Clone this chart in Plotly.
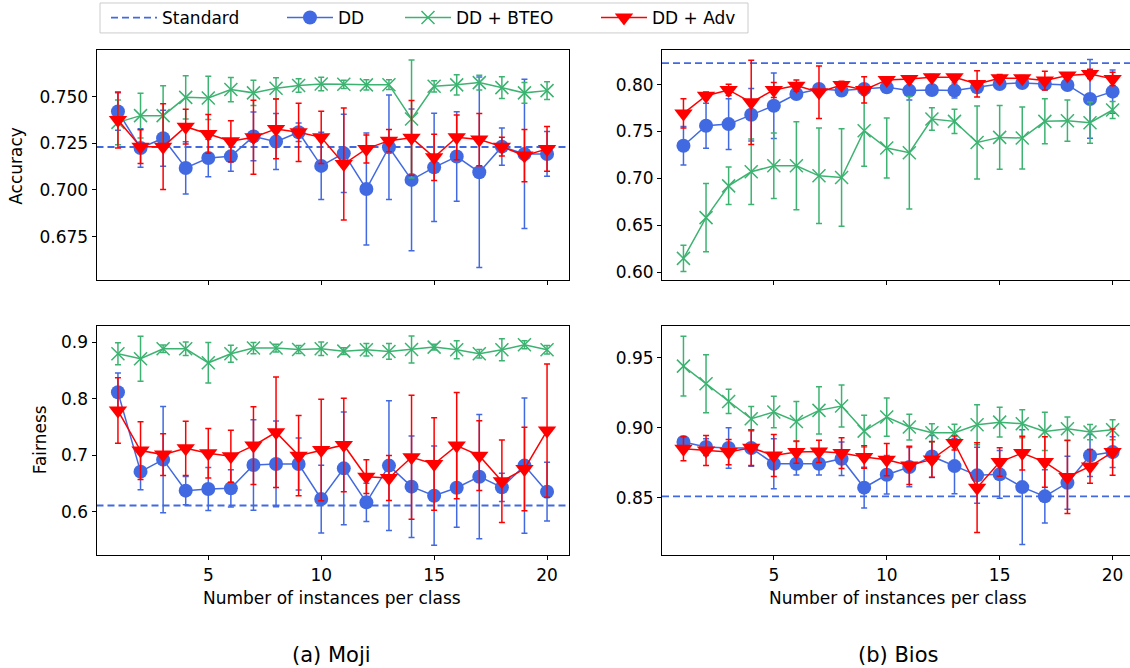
import plotly.graph_objects as go

W, H = 1130, 668
FONT = "DejaVu Sans"

x_vals = list(range(1, 21))
x_ticks = [5, 10, 15, 20]

# Standard baselines
std_moji_acc = 0.723
std_moji_fair = 0.611
std_bios_acc = 0.823
std_bios_fair = 0.851

# Moji accuracy
moji_acc_dd = [0.742, 0.7225, 0.7277, 0.7118, 0.7171, 0.718, 0.7287, 0.7259, 0.7309, 0.7129,
               0.7196, 0.7005, 0.7229, 0.7054, 0.7121, 0.7179, 0.7095, 0.7232, 0.7193, 0.7193]
moji_acc_dd_err = [0.010, 0.0103, 0.015, 0.014, 0.010, 0.008, 0.013, 0.015, 0.005, 0.018,
                   0.021, 0.030, 0.028, 0.038, 0.029, 0.024, 0.051, 0.010, 0.040, 0.012]
moji_acc_bteo = [0.7362, 0.7398, 0.7398, 0.7496, 0.7493, 0.7538, 0.752, 0.7545, 0.7559, 0.7568,
                 0.7566, 0.7563, 0.7564, 0.738, 0.7555, 0.7563, 0.7575, 0.7548, 0.752, 0.7532]
moji_acc_bteo_err = [0.012, 0.012, 0.016, 0.0116, 0.0116, 0.0065, 0.0067, 0.0056, 0.0036, 0.0036,
                     0.0022, 0.0027, 0.0026, 0.0316, 0.003, 0.0054, 0.004, 0.0058, 0.0056, 0.0048]
moji_acc_adv = [0.7375, 0.7232, 0.7232, 0.7339, 0.730, 0.7261, 0.7282, 0.7327, 0.7309, 0.7282,
                0.7139, 0.722, 0.7264, 0.7279, 0.7175, 0.7282, 0.727, 0.7232, 0.7184, 0.722]
moji_acc_adv_err = [0.015, 0.009, 0.023, 0.0093, 0.0104, 0.011, 0.0198, 0.016, 0.0156, 0.014,
                    0.030, 0.0075, 0.006, 0.020, 0.0124, 0.012, 0.014, 0.005, 0.014, 0.012]

# Moji fairness
moji_fair_dd = [0.8118, 0.671, 0.6923, 0.6373, 0.6402, 0.6414, 0.6828, 0.6846, 0.6846, 0.6225,
                0.6769, 0.6166, 0.6817, 0.6444, 0.6284, 0.6426, 0.6621, 0.6432, 0.6817, 0.6355]
moji_fair_dd_err = [0.034, 0.032, 0.094, 0.025, 0.038, 0.033, 0.080, 0.076, 0.046, 0.060,
                    0.100, 0.034, 0.115, 0.090, 0.088, 0.070, 0.110, 0.025, 0.120, 0.052]
moji_fair_bteo = [0.8799, 0.871, 0.8888, 0.8888, 0.8639, 0.8799, 0.890, 0.890, 0.8876, 0.8888,
                  0.8846, 0.887, 0.884, 0.8876, 0.8917, 0.887, 0.8799, 0.887, 0.8959, 0.887]
moji_fair_bteo_err = [0.0195, 0.040, 0.0065, 0.012, 0.036, 0.015, 0.010, 0.007, 0.007, 0.012,
                      0.006, 0.011, 0.014, 0.024, 0.005, 0.016, 0.0075, 0.0195, 0.007, 0.0077]
moji_fair_adv = [0.7793, 0.7083, 0.7012, 0.7124, 0.7036, 0.6982, 0.7172, 0.7408, 0.6994, 0.7095,
                 0.7183, 0.6621, 0.6598, 0.6965, 0.6846, 0.7172, 0.6994, 0.6539, 0.6757, 0.7438]
moji_fair_adv_err = [0.058, 0.051, 0.037, 0.048, 0.044, 0.046, 0.069, 0.098, 0.071, 0.090,
                     0.083, 0.030, 0.040, 0.110, 0.082, 0.094, 0.062, 0.073, 0.074, 0.118]

# Bios accuracy
bios_acc_dd = [0.7348, 0.7561, 0.7579, 0.7679, 0.7775, 0.790, 0.7954, 0.7936, 0.7954, 0.7971,
               0.7936, 0.7943, 0.7936, 0.7971, 0.8007, 0.8018, 0.8007, 0.7996, 0.7847, 0.7925]
bios_acc_dd_err = [0.0205, 0.024, 0.027, 0.028, 0.035, 0.005, 0.005, 0.004, 0.005, 0.004,
                   0.010, 0.005, 0.008, 0.004, 0.003, 0.003, 0.004, 0.004, 0.042, 0.023]
bios_acc_bteo = [0.6146, 0.6581, 0.692, 0.707, 0.7134, 0.7134, 0.7027, 0.7009, 0.7508, 0.7323,
                 0.7273, 0.7633, 0.7608, 0.7383, 0.7437, 0.743, 0.7608, 0.7615, 0.7594, 0.7729]
bios_acc_bteo_err = [0.014, 0.0365, 0.020, 0.035, 0.035, 0.047, 0.051, 0.052, 0.038, 0.032,
                     0.060, 0.012, 0.013, 0.039, 0.034, 0.033, 0.024, 0.022, 0.022, 0.009]
bios_acc_adv = [0.7693, 0.7882, 0.7943, 0.7811, 0.7943, 0.7989, 0.7918, 0.7996, 0.7943, 0.805,
                0.8061, 0.8078, 0.8078, 0.8007, 0.8068, 0.8068, 0.8043, 0.8096, 0.8114, 0.8061]
bios_acc_adv_err = [0.0155, 0.004, 0.006, 0.045, 0.008, 0.006, 0.028, 0.004, 0.014, 0.003,
                    0.003, 0.003, 0.002, 0.014, 0.004, 0.003, 0.010, 0.003, 0.005, 0.007]

# Bios fairness
bios_fair_dd = [0.8898, 0.8862, 0.8855, 0.8855, 0.8743, 0.8743, 0.8743, 0.8779, 0.8572, 0.8664,
                0.8719, 0.8795, 0.8726, 0.866, 0.8667, 0.8576, 0.851, 0.8607, 0.8802, 0.8826]
bios_fair_dd_err = [0.002, 0.006, 0.0145, 0.013, 0.0178, 0.008, 0.008, 0.012, 0.0145, 0.0137,
                    0.014, 0.015, 0.0198, 0.020, 0.017, 0.041, 0.019, 0.019, 0.015, 0.011]
bios_fair_bteo = [0.944, 0.9314, 0.9188, 0.9064, 0.9112, 0.9045, 0.9124, 0.9155, 0.8976, 0.9076,
                  0.9005, 0.8964, 0.8964, 0.9021, 0.904, 0.9029, 0.8974, 0.8993, 0.8969, 0.8986]
bios_fair_bteo_err = [0.0214, 0.0207, 0.0087, 0.0088, 0.0113, 0.0143, 0.0169, 0.015, 0.0114, 0.0137,
                      0.0092, 0.0065, 0.006, 0.0143, 0.0107, 0.010, 0.0137, 0.0083, 0.0054, 0.0071]
bios_fair_adv = [0.885, 0.8838, 0.8826, 0.8857, 0.8802, 0.8826, 0.8831, 0.8819, 0.8791, 0.8772,
                 0.8731, 0.8774, 0.8891, 0.8572, 0.8755, 0.8819, 0.8755, 0.8648, 0.8724, 0.8826]
bios_fair_adv_err = [0.0086, 0.0107, 0.009, 0.0126, 0.015, 0.008, 0.008, 0.011, 0.008, 0.0115,
                     0.0137, 0.0127, 0.005, 0.032, 0.0102, 0.012, 0.018, 0.026, 0.012, 0.0165]

BLUE = "#4169E1"
GREEN = "#3CB371"
RED = "#FF0000"

fig = go.Figure()

panels = [
    ("x", "y", std_moji_acc, moji_acc_dd, moji_acc_dd_err, moji_acc_bteo, moji_acc_bteo_err,
     moji_acc_adv, moji_acc_adv_err, [0.05, 20.95]),
    ("x2", "y2", std_bios_acc, bios_acc_dd, bios_acc_dd_err, bios_acc_bteo, bios_acc_bteo_err,
     bios_acc_adv, bios_acc_adv_err, [0.05, 20.77]),
    ("x3", "y3", std_moji_fair, moji_fair_dd, moji_fair_dd_err, moji_fair_bteo, moji_fair_bteo_err,
     moji_fair_adv, moji_fair_adv_err, [0.05, 20.95]),
    ("x4", "y4", std_bios_fair, bios_fair_dd, bios_fair_dd_err, bios_fair_bteo, bios_fair_bteo_err,
     bios_fair_adv, bios_fair_adv_err, [0.05, 20.77]),
]

for i, (xa, ya, std, dd, dde, bt, bte, adv, adve, xr) in enumerate(panels):
    first = i == 0
    fig.add_trace(go.Scatter(
        x=[xr[0], xr[1]], y=[std, std], mode="lines", name="Standard",
        line=dict(color=BLUE, width=1.8, dash="7px,4px"),
        xaxis=xa, yaxis=ya, showlegend=first, legend="legend", hoverinfo="skip"))
    fig.add_trace(go.Scatter(
        x=x_vals, y=dd, mode="lines+markers", name="DD",
        line=dict(color=BLUE, width=1.5),
        marker=dict(symbol="circle", size=14, color=BLUE),
        error_y=dict(type="data", array=dde, visible=True, color=BLUE, thickness=1.5, width=3),
        xaxis=xa, yaxis=ya, showlegend=first, legend="legend2"))
    fig.add_trace(go.Scatter(
        x=x_vals, y=bt, mode="lines+markers", name="DD + BTEO",
        line=dict(color=GREEN, width=1.5),
        marker=dict(symbol="x-thin", size=13, color=GREEN, line=dict(color=GREEN, width=1.5)),
        error_y=dict(type="data", array=bte, visible=True, color=GREEN, thickness=1.5, width=3),
        xaxis=xa, yaxis=ya, showlegend=first, legend="legend3"))
    fig.add_trace(go.Scatter(
        x=x_vals, y=adv, mode="lines+markers", name="DD + Adv",
        line=dict(color=RED, width=1.5),
        marker=dict(symbol="triangle-down", size=16, color=RED),
        error_y=dict(type="data", array=adve, visible=True, color=RED, thickness=1.5, width=3),
        xaxis=xa, yaxis=ya, showlegend=first, legend="legend4"))


def px_x(p):
    return p / W


def px_y(p):
    return 1 - p / H


LX = [px_x(96.5), px_x(568.5)]
RX = [px_x(662), 1.0]
TY = [px_y(279), px_y(49)]
BY = [px_y(555), px_y(325)]

tickfont = dict(family=FONT, size=17, color="black")
common_x = dict(tickmode="array", tickvals=x_ticks, ticks="outside", ticklen=4, tickwidth=1,
                tickcolor="black", showline=True, linecolor="black", linewidth=1,
                showgrid=False, zeroline=False, tickfont=tickfont, automargin=False)
common_y = dict(ticks="outside", ticklen=4, tickwidth=1, tickcolor="black", showline=True,
                linecolor="black", linewidth=1, showgrid=False, zeroline=False,
                tickfont=tickfont, automargin=False)

fig.update_layout(
    xaxis=dict(domain=LX, range=[0.05, 20.95], anchor="y", showticklabels=False, mirror=True, **common_x),
    yaxis=dict(domain=TY, range=[0.652, 0.775], anchor="x", mirror=True,
               tickvals=[0.675, 0.700, 0.725, 0.750], tickformat=".3f", **common_y),
    xaxis2=dict(domain=RX, range=[0.05, 20.77], anchor="y2", showticklabels=False, mirror=True, **common_x),
    yaxis2=dict(domain=TY, range=[0.592, 0.837], anchor="x2", mirror=False,
                tickvals=[0.60, 0.65, 0.70, 0.75, 0.80], tickformat=".2f", **common_y),
    xaxis3=dict(domain=LX, range=[0.05, 20.95], anchor="y3", showticklabels=True, mirror=True, **common_x),
    yaxis3=dict(domain=BY, range=[0.523, 0.930], anchor="x3", mirror=True,
                tickvals=[0.6, 0.7, 0.8, 0.9], tickformat=".1f", **common_y),
    xaxis4=dict(domain=RX, range=[0.05, 20.77], anchor="y4", showticklabels=True, mirror=True, **common_x),
    yaxis4=dict(domain=BY, range=[0.809, 0.973], anchor="x4", mirror=False,
                tickvals=[0.85, 0.90, 0.95], tickformat=".2f", **common_y),
)

leg_common = dict(orientation="h", yanchor="middle", y=px_y(17), xanchor="left",
                  bgcolor="rgba(0,0,0,0)", borderwidth=0, itemwidth=46,
                  font=dict(family=FONT, size=17, color="black"))
fig.update_layout(
    legend=dict(x=px_x(106), **leg_common),
    legend2=dict(x=px_x(282), **leg_common),
    legend3=dict(x=px_x(400), **leg_common),
    legend4=dict(x=px_x(596), **leg_common),
)

fig.add_shape(type="rect", xref="paper", yref="paper",
              x0=px_x(100), x1=px_x(748), y0=px_y(32), y1=px_y(2),
              line=dict(color="#cccccc", width=1), fillcolor="rgba(0,0,0,0)")

ann_font = dict(family=FONT, size=17, color="black")
annotations = [
    dict(text="Accuracy", x=px_x(16), y=px_y(165), textangle=-90, font=ann_font),
    dict(text="Fairness", x=px_x(40), y=px_y(440), textangle=-90, font=ann_font),
    dict(text="Number of instances per class", x=px_x(332), y=px_y(598), font=ann_font),
    dict(text="Number of instances per class", x=px_x(898), y=px_y(598), font=ann_font),
    dict(text="(a) Moji", x=px_x(331), y=px_y(655), font=dict(family=FONT, size=21, color="black")),
    dict(text="(b) Bios", x=px_x(898), y=px_y(655), font=dict(family=FONT, size=21, color="black")),
]
for a in annotations:
    fig.add_annotation(xref="paper", yref="paper", xanchor="center", yanchor="middle",
                       showarrow=False, **a)

fig.update_layout(
    width=W, height=H, margin=dict(l=0, r=0, t=0, b=0),
    paper_bgcolor="white", plot_bgcolor="white",
    font=dict(family=FONT, color="black"),
)

fig.write_html("out.html", config={"displayModeBar": False},
               post_script="document.body.style.margin='0';")
